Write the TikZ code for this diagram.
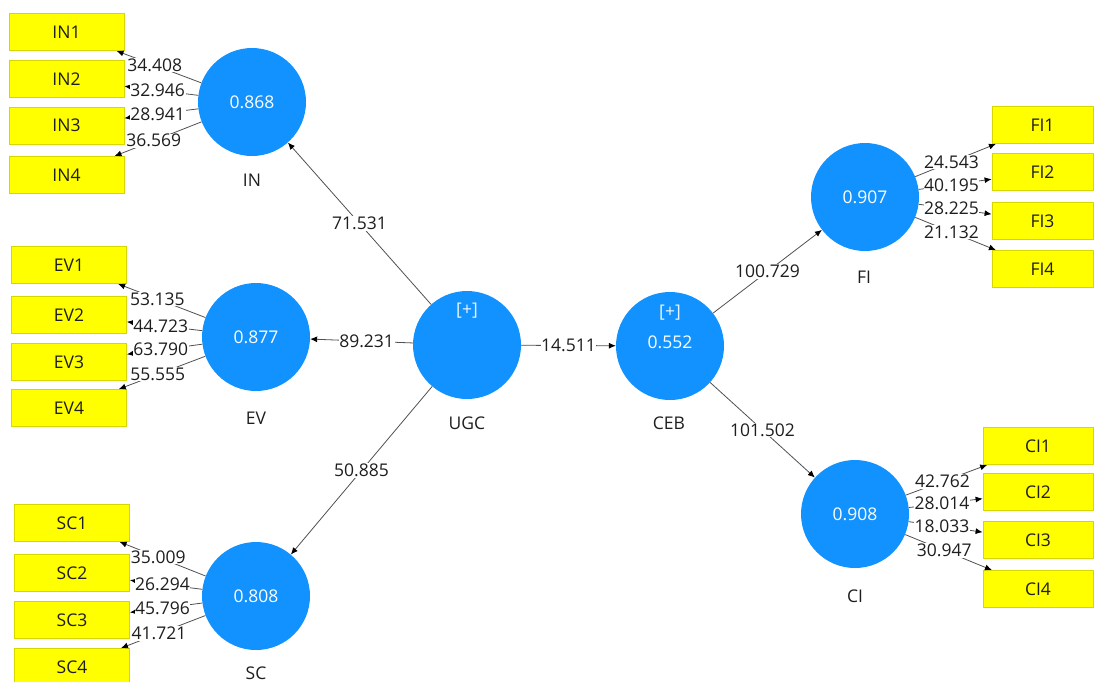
\documentclass[tikz,border=0pt]{standalone}
\usepackage{fontspec}
\setmainfont{Open Sans}
\usetikzlibrary{arrows.meta}
\definecolor{lvblue}{RGB}{18,146,255}
\definecolor{boxyellow}{RGB}{255,255,0}
\definecolor{boxborder}{RGB}{214,214,0}
\definecolor{edgegray}{RGB}{80,80,80}
\definecolor{txtdark}{RGB}{30,30,30}
\begin{document}
\begin{tikzpicture}[x=1pt,y=-1pt,
  every node/.style={font=\fontsize{17.5}{20}\selectfont, text=txtdark},
  latent/.style={circle, fill=lvblue, draw=none, minimum size=108pt, inner sep=0pt, text=white},
  indic/.style={rectangle, fill=boxyellow, draw=boxborder, line width=0.8pt, minimum width=#1, minimum height=37pt, inner sep=0pt},
  indic/.default=115pt,
  lvname/.style={text=txtdark},
  edge/.style={draw=edgegray, line width=0.8pt, -{Latex[length=7pt,width=6pt,color=black]}},
  lab/.style={fill=white, inner sep=0.6pt, text=txtdark}
]
\useasboundingbox (0,0) rectangle (1094,681);
\clip (0,0) rectangle (1094,681);

% latent variables
\node[latent] (IN) at (252,102) {0.868};
\node[latent] (EV) at (256,337) {0.877};
\node[latent] (SC) at (256,596) {0.808};
\node[latent] (UGC) at (467,345) {};
\node[latent] (CEB) at (670,346) {};
\node[latent] (FI) at (865,197) {0.907};
\node[latent] (CI) at (855,514) {0.908};

\node[text=white!90!lvblue] (UGCp) at (467,311) {[+]};
\node[text=white!90!lvblue] (CEBp) at (670,313) {[+]};
\node[text=white] (CEBv) at (670,342) {0.552};

% names
\node[lvname] (INn) at (252,180) {IN};
\node[lvname] (EVn) at (256,418) {EV};
\node[lvname] (SCn) at (256,673) {SC};
\node[lvname] (UGCn) at (467,423) {UGC};
\node[lvname] (CEBn) at (669,423) {CEB};
\node[lvname] (FIn) at (864,277) {FI};
\node[lvname] (CIn) at (855,596) {CI};

% indicators
\node[indic] (IN1) at (66.5,32) {IN1};
\node[indic] (IN2) at (66.5,79) {IN2};
\node[indic] (IN3) at (66.5,125.5) {IN3};
\node[indic] (IN4) at (66.5,175) {IN4};

\node[indic] (EV1) at (69,265) {EV1};
\node[indic] (EV2) at (69,315) {EV2};
\node[indic] (EV3) at (69,362) {EV3};
\node[indic] (EV4) at (69,408) {EV4};

\node[indic] (SC1) at (72,523) {SC1};
\node[indic] (SC2) at (72,573) {SC2};
\node[indic] (SC3) at (72,620) {SC3};
\node[indic] (SC4) at (72,667) {SC4};

\node[indic=101pt] (FI1) at (1042.5,125) {FI1};
\node[indic=101pt] (FI2) at (1042.5,172) {FI2};
\node[indic=101pt] (FI3) at (1042.5,221) {FI3};
\node[indic=101pt] (FI4) at (1042.5,269) {FI4};

\node[indic=110pt] (CI1) at (1038,446) {CI1};
\node[indic=110pt] (CI2) at (1038,492) {CI2};
\node[indic=110pt] (CI3) at (1038,540) {CI3};
\node[indic=110pt] (CI4) at (1038,589) {CI4};

% outer loadings
\path[edge] (IN) -- (IN1) node[lab,pos=0.55] {34.408};
\path[edge] (IN) -- (IN2) node[lab,pos=0.55] {32.946};
\path[edge] (IN) -- (IN3) node[lab,pos=0.55] {28.941};
\path[edge] (IN) -- (IN4) node[lab,pos=0.55] {36.569};

\path[edge] (EV) -- (EV1) node[lab,pos=0.55] {53.135};
\path[edge] (EV) -- (EV2) node[lab,pos=0.55] {44.723};
\path[edge] (EV) -- (EV3) node[lab,pos=0.55] {63.790};
\path[edge] (EV) -- (EV4) node[lab,pos=0.55] {55.555};

\path[edge] (SC) -- (SC1) node[lab,pos=0.55] {35.009};
\path[edge] (SC) -- (SC2) node[lab,pos=0.55] {26.294};
\path[edge] (SC) -- (SC3) node[lab,pos=0.55] {45.796};
\path[edge] (SC) -- (SC4) node[lab,pos=0.55] {41.721};

\path[edge] (FI) -- (FI1) node[lab,pos=0.45] {24.543};
\path[edge] (FI) -- (FI2) node[lab,pos=0.45] {40.195};
\path[edge] (FI) -- (FI3) node[lab,pos=0.45] {28.225};
\path[edge] (FI) -- (FI4) node[lab,pos=0.45] {21.132};

\path[edge] (CI) -- (CI1) node[lab,pos=0.45] {42.762};
\path[edge] (CI) -- (CI2) node[lab,pos=0.45] {28.014};
\path[edge] (CI) -- (CI3) node[lab,pos=0.45] {18.033};
\path[edge] (CI) -- (CI4) node[lab,pos=0.45] {30.947};

% inner model
\path[edge] (UGC) -- (IN) node[lab,pos=0.5] {71.531};
\path[edge] (UGC) -- (EV) node[lab,pos=0.45] {89.231};
\path[edge] (UGC) -- (SC) node[lab,pos=0.5] {50.885};
\path[edge] (UGC) -- (CEB) node[lab,pos=0.5] {14.511};
\path[edge] (CEB) -- (FI) node[lab,pos=0.5] {100.729};
\path[edge] (CEB) -- (CI) node[lab,pos=0.5] {101.502};
\end{tikzpicture}
\end{document}
